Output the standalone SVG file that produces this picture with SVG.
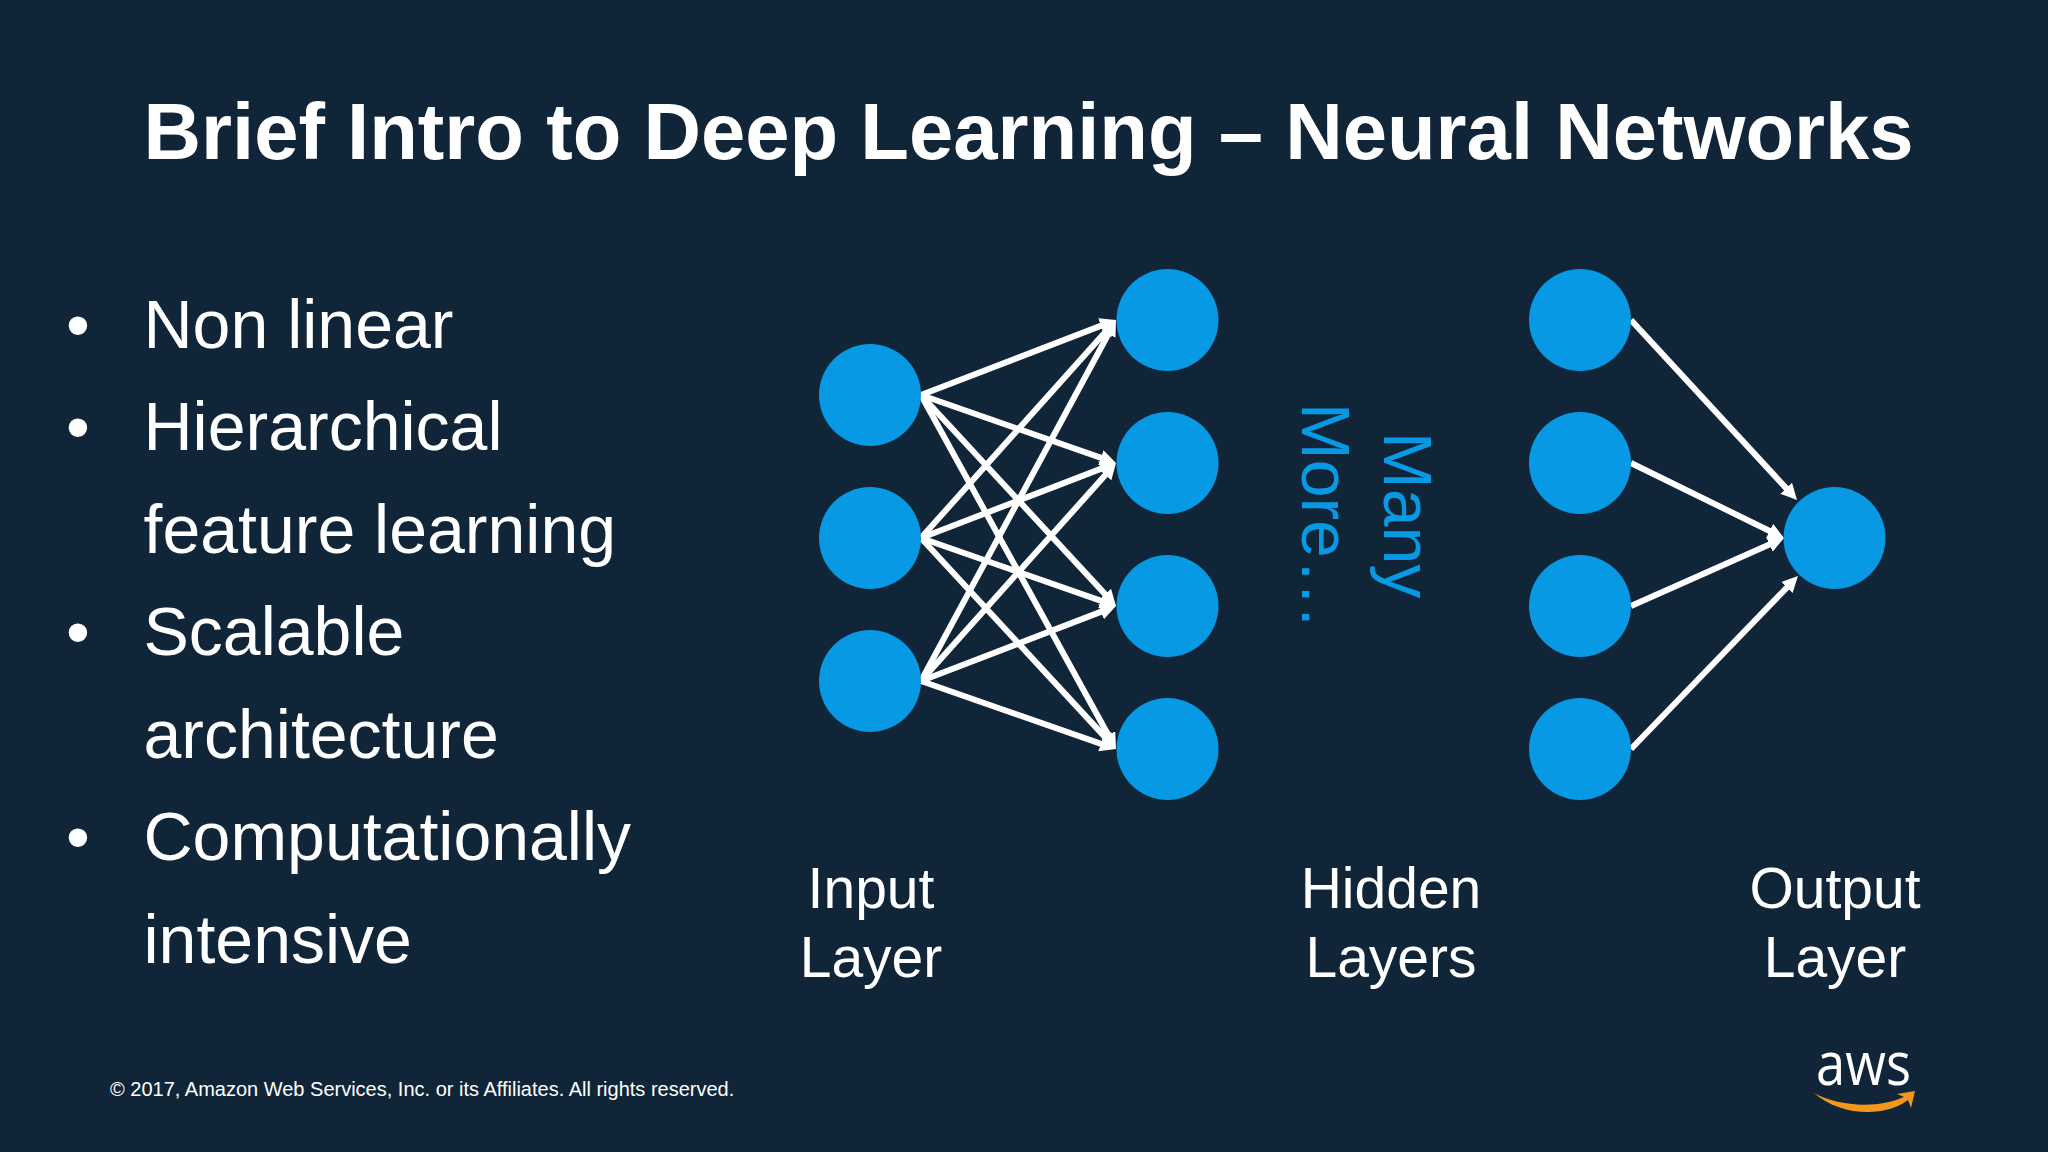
<svg xmlns="http://www.w3.org/2000/svg" width="2048" height="1152" viewBox="0 0 2048 1152">
<style>
text{font-family:"Liberation Sans",Arial,sans-serif;fill:#fff}
.title{font-size:79.65px;font-weight:700}
.body{font-size:68px}
.lab{font-size:57px;text-anchor:middle}
.more{font-size:68px;fill:#0899e5}
.foot{font-size:20px}
.n{fill:#0899e5}
.e{stroke:#fff;stroke-width:6;fill:none;marker-end:url(#ah)}
</style>
<defs><marker id="ah" markerUnits="userSpaceOnUse" markerWidth="18" markerHeight="18" refX="8" refY="8" orient="auto"><path d="M0 0L16 8L0 16Z" fill="#fff"/></marker></defs>
<rect width="2048" height="1152" fill="#102638"/>
<text class="title" x="143.5" y="159">Brief Intro to Deep Learning – Neural Networks</text>
<g id="bullets">
<text class="body" x="66" y="348">•</text><text class="body" x="143.5" y="348">Non linear</text>
<text class="body" x="66" y="450">•</text><text class="body" x="143.5" y="450">Hierarchical</text>
<text class="body" x="143.5" y="553">feature learning</text>
<text class="body" x="66" y="655">•</text><text class="body" x="143.5" y="655">Scalable</text>
<text class="body" x="143.5" y="758">architecture</text>
<text class="body" x="66" y="860">•</text><text class="body" x="143.5" y="860">Computationally</text>
<text class="body" x="143.5" y="963">intensive</text>
</g>
<g id="connectors">
<path class="e" d="M921 395L1108.5 322.9"/><path class="e" d="M921 395L1108.4 460.4"/><path class="e" d="M921 395L1110.6 600.1"/><path class="e" d="M921 395L1112.1 742"/>
<path class="e" d="M921 538L1110.7 326"/><path class="e" d="M921 538L1108.5 465.9"/><path class="e" d="M921 538L1108.4 603.4"/><path class="e" d="M921 538L1110.6 743.1"/>
<path class="e" d="M921 681L1112.2 327"/><path class="e" d="M921 681L1110.7 469"/><path class="e" d="M921 681L1108.5 608.9"/><path class="e" d="M921 681L1108.4 746.4"/>
<path class="e" d="M1631 320L1791.6 494.1"/><path class="e" d="M1631 463L1776.8 534.5"/><path class="e" d="M1631 606L1776.7 541.2"/><path class="e" d="M1631 749L1792.4 581.8"/>
</g>
<g id="input-1"><circle class="n" cx="870" cy="395" r="51"/></g>
<g id="input-2"><circle class="n" cx="870" cy="538" r="51"/></g>
<g id="input-3"><circle class="n" cx="870" cy="681" r="51"/></g>
<g id="hidden-a1"><circle class="n" cx="1167.5" cy="320" r="51"/></g>
<g id="hidden-a2"><circle class="n" cx="1167.5" cy="463" r="51"/></g>
<g id="hidden-a3"><circle class="n" cx="1167.5" cy="606" r="51"/></g>
<g id="hidden-a4"><circle class="n" cx="1167.5" cy="749" r="51"/></g>
<g id="hidden-b1"><circle class="n" cx="1580" cy="320" r="51"/></g>
<g id="hidden-b2"><circle class="n" cx="1580" cy="463" r="51"/></g>
<g id="hidden-b3"><circle class="n" cx="1580" cy="606" r="51"/></g>
<g id="hidden-b4"><circle class="n" cx="1580" cy="749" r="51"/></g>
<g id="output-1"><circle class="n" cx="1834.5" cy="538" r="51"/></g>
<text class="more" transform="translate(1383.5 432) rotate(90)">Many</text>
<text class="more" transform="translate(1302 403) rotate(90)">More<tspan dx="4" letter-spacing="4">...</tspan></text>
<text class="lab" x="871" y="908">Input</text><text class="lab" x="871" y="977">Layer</text>
<text class="lab" x="1391" y="908">Hidden</text><text class="lab" x="1391" y="977">Layers</text>
<text class="lab" x="1835" y="908">Output</text><text class="lab" x="1835" y="977">Layer</text>
<text class="foot" x="110" y="1096">© 2017, Amazon Web Services, Inc. or its Affiliates. All rights reserved.</text>
<g id="aws-logo">
<text x="1816" y="1085" style="font-family:'Open Sans',sans-serif;font-size:60px;font-weight:500" textLength="95" lengthAdjust="spacingAndGlyphs">aws</text>
<path d="M1814 1093C1835 1105 1875 1110 1904 1097L1897 1094L1915 1091L1911 1108L1908 1100C1885 1118 1840 1116 1814 1093Z" fill="#f0981e"/>
</g>
</svg>
